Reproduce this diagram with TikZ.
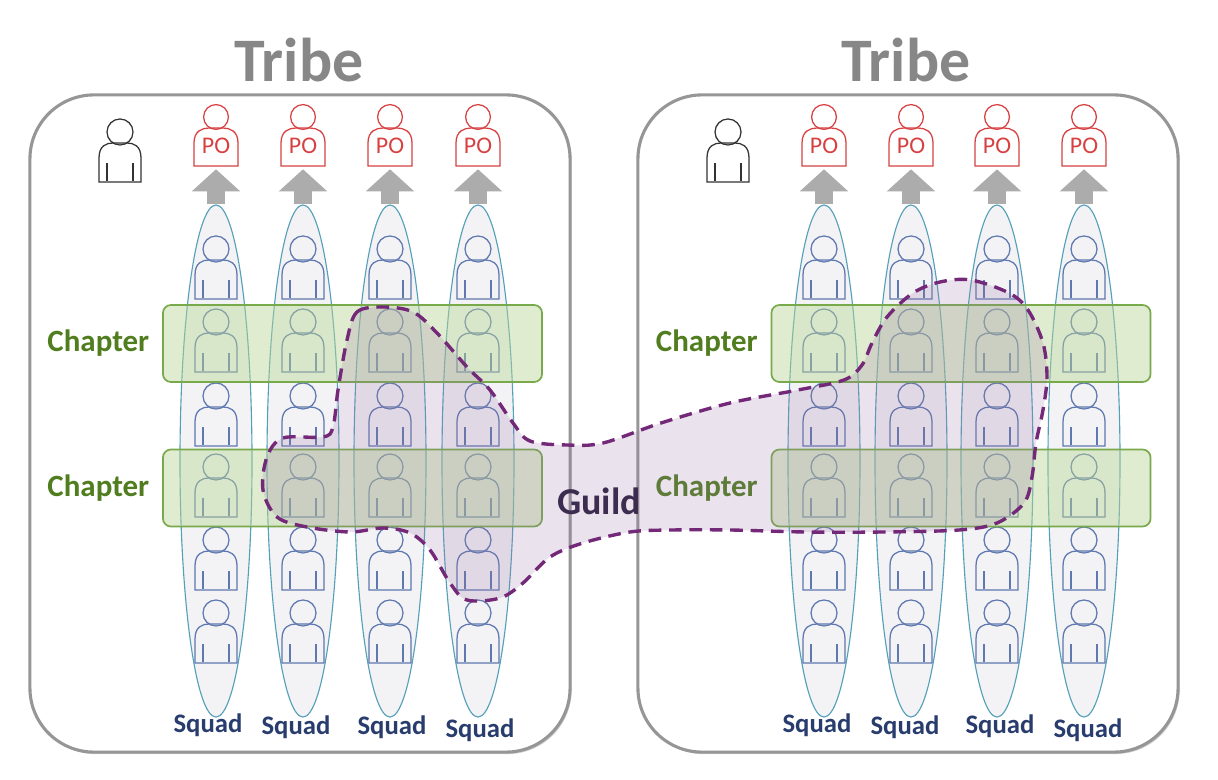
\documentclass[tikz,border=0pt]{standalone}
\usepackage{fontspec}
\setmainfont{Carlito}
\usetikzlibrary{positioning,shapes.geometric,arrows.meta,shadows}

\definecolor{tribegray}{RGB}{135,135,135}
\definecolor{tribeline}{RGB}{150,150,150}
\definecolor{squadline}{RGB}{85,160,185}
\definecolor{squadfill}{RGB}{243,243,245}
\definecolor{memberblue}{RGB}{95,120,175}
\definecolor{pored}{RGB}{215,65,65}
\definecolor{chapterline}{RGB}{120,170,75}
\definecolor{chapterfill}{RGB}{185,215,150}
\definecolor{chaptertext}{RGB}{80,125,30}
\definecolor{squadtext}{RGB}{40,60,110}
\definecolor{guildline}{RGB}{115,40,120}
\definecolor{guildfill}{RGB}{150,115,165}
\definecolor{guildtext}{RGB}{60,45,80}
\definecolor{arrowgray}{RGB}{172,172,172}

\tikzset{
  owner/.pic={
    \draw[pic actions] (-22,49) -- (-22,26) .. controls (-22,14) and (-14,11) .. (-7,11) -- (7,11) .. controls (14,11) and (22,14) .. (22,26) -- (22,49) -- cycle;
    \draw[pic actions] (0,0) circle [radius=0.31cm];
  },
  member/.pic={
    \draw[pic actions] (-21,50) -- (-21,26) .. controls (-21,14) and (-14,11) .. (-7,11) -- (7,11) .. controls (14,11) and (21,14) .. (21,26) -- (21,50) -- cycle;
    \draw[pic actions] (-13,31) -- (-13,49) (13,31) -- (13,49);
    \draw[pic actions] (0,0) circle [radius=0.325cm];
  },
  squadmember/.style={draw=memberblue, line width=0.9pt},
  pomember/.style={draw=pored, line width=0.9pt},
  leadmember/.style={draw=black!80, line width=0.9pt},
  tribebox/.style={draw=tribeline, line width=2.2pt, rounded corners=1.6cm, fill=white,
    minimum width=13.5cm, minimum height=16.425cm,
    drop shadow={opacity=0.35, shadow xshift=0.04cm, shadow yshift=-0.05cm}},
  tribetitle/.style={text=tribegray, font=\fontsize{44}{44}\selectfont\bfseries, anchor=base},
  squad/.style={ellipse, draw=squadline, fill=squadfill, line width=0.8pt, inner sep=0pt,
    minimum width=1.8cm, minimum height=12.8cm},
  squadlabel/.style={text=squadtext, font=\fontsize{19}{19}\selectfont\bfseries, anchor=base},
  po/.style={text=pored, font=\fontsize{17}{17}\selectfont, inner sep=0pt,
    minimum width=1.1cm, minimum height=0.95cm},
  poarrow/.style={draw=arrowgray, line width=0.45cm, -{Triangle[width=1.175cm, length=0.55cm]}},
  chapterbox/.style={draw=chapterline, line width=1.2pt, fill=chapterfill, fill opacity=0.45,
    rounded corners=0.2cm, minimum width=9.475cm, minimum height=1.925cm},
  chapterlabel/.style={text=chaptertext, font=\fontsize{22}{22}\selectfont\bfseries},
  guild/.style={draw=guildline, line width=2.4pt, dash pattern=on 9pt off 5.5pt,
    fill=guildfill, fill opacity=0.2},
  guildlabel/.style={text=guildtext, font=\fontsize{27}{27}\selectfont\bfseries, anchor=base}
}

\begin{document}
\begin{tikzpicture}[x=0.025cm, y=-0.025cm]
  \useasboundingbox (0,0) rectangle (1218,780);

  % tribes
  \node [tribebox] (tribeL) at (300,423.5) {};
  \node [tribebox] (tribeR) at (908,423.5) {};
  \node [tribetitle] (titleL) at (299,82) {Tribe};
  \node [tribetitle] (titleR) at (906,82) {Tribe};

  % squads
  \node [squad] (sq1) at (216,461) {};
  \node [squad] (sq2) at (303,461) {};
  \node [squad] (sq3) at (390,461) {};
  \node [squad] (sq4) at (478,461) {};
  \node [squad] (sq5) at (824,461) {};
  \node [squad] (sq6) at (911,461) {};
  \node [squad] (sq7) at (997,461) {};
  \node [squad] (sq8) at (1084,461) {};

  % product owners
  \node [po] (po1) at (216,146) {PO};
  \node [po] (po2) at (303,146) {PO};
  \node [po] (po3) at (390,146) {PO};
  \node [po] (po4) at (478,146) {PO};
  \node [po] (po5) at (824,146) {PO};
  \node [po] (po6) at (911,146) {PO};
  \node [po] (po7) at (997,146) {PO};
  \node [po] (po8) at (1084,146) {PO};
  \foreach \cx in {216,303,390,478,824,911,997,1084}
    \pic [pomember] at (\cx,117) {owner};
  \foreach \i in {1,...,8}
    \draw [poarrow] (sq\i.north) -- ([yshift=-0.1cm]po\i.south);

  % tribe leads
  \pic [leadmember] at (120,132) {member};
  \pic [leadmember] at (728,132) {member};

  % squad members
  \foreach \cx in {216,303,390,478,824,911,997,1084}
    \foreach \cy in {249,322,396,467,540,613}
      \pic [squadmember] at (\cx,\cy) {member};

  % chapters
  \node [chapterbox] (chL1) at (352.5,343.5) {};
  \node [chapterbox] (chL2) at (352.5,488) {};
  \node [chapterbox] (chR1) at (961,343.5) {};
  \node [chapterbox] (chR2) at (961,488) {};
  \node [chapterlabel, left=0.2cm of chL1] (labL1) {Chapter};
  \node [chapterlabel, left=0.2cm of chL2] (labL2) {Chapter};
  \node [chapterlabel, left=0.2cm of chR1] (labR1) {Chapter};
  \node [chapterlabel, left=0.2cm of chR2] (labR2) {Chapter};

  % guild
  \draw [guild] plot [smooth cycle, tension=0.55] coordinates {
    (347,340) (357,312) (383,307) (413,312) (437,333) (467,367) (490,390)
    (513,423) (530,441) (567,445) (603,443) (661,423) (730,403) (798,390)
    (844,380) (862,365) (872,343) (887,317) (913,293) (940,282) (971,280)
    (1009,293) (1028,310) (1043,343) (1047,377) (1043,410) (1036,443)
    (1032,477) (1024,503) (997,523) (959,530) (883,532) (806,532) (730,530)
    (672,530) (630,532) (583,543) (550,557) (523,583) (500,598) (467,600)
    (450,583) (430,550) (410,533) (383,528) (350,532) (307,527) (277,517)
    (263,490) (267,457) (283,438) (323,437) (333,427) (338,390)};
  \node [guildlabel] (guild) at (599,515) {Guild};

  % squad names
  \node [squadlabel] (name1) at (208,732) {Squad};
  \node [squadlabel] (name2) at (296,734) {Squad};
  \node [squadlabel] (name3) at (392,734) {Squad};
  \node [squadlabel] (name4) at (480,737) {Squad};
  \node [squadlabel] (name5) at (817,732) {Squad};
  \node [squadlabel] (name6) at (905,734) {Squad};
  \node [squadlabel] (name7) at (1000,733) {Squad};
  \node [squadlabel] (name8) at (1088,737) {Squad};
\end{tikzpicture}
\end{document}
